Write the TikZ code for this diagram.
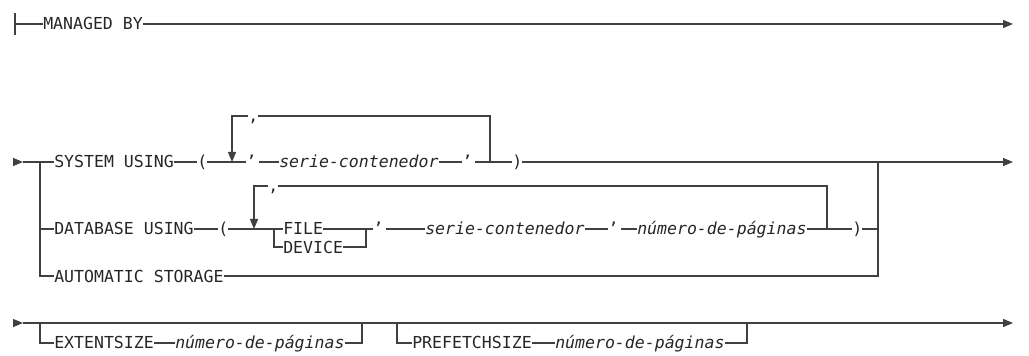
\documentclass[tikz,border=0pt]{standalone}
\usepackage{fontspec}
\setmainfont{DejaVu Sans Mono}
\usepackage{tikz}
\usetikzlibrary{arrows.meta}

\newcommand{\railsize}{\fontsize{12.4pt}{15pt}\selectfont}
\tikzset{
  rail/.style={draw=black!75, line width=0.9pt},
  tip/.style={-{Triangle[length=7.5pt,width=6pt]}},
  kw/.style={inner sep=0pt, anchor=west, text height=9pt, text depth=0pt, text=black!85, font=\railsize},
  var/.style={kw, font=\railsize\itshape},
}

\begin{document}
\begin{tikzpicture}[x=0.75pt,y=-0.75pt]
	\useasboundingbox (0,0) rectangle (1029,356);
	
	% Row 1
	\coordinate (s1) at (15,24);
	\coordinate (e1) at (1013,24);
	\node[kw] (managed) at (43,24) {MANAGED BY};
	\draw[rail] (15,13) -- (15,35);
	\draw[rail] (s1) -- (managed.west);
	\draw[rail,tip] (managed.east) -- (e1);
	
	% Row 2: SYSTEM USING
	\coordinate (s2) at (23,162);
	\coordinate (e2) at (1013,162);
	\node[kw] (sys) at (54,162) {SYSTEM USING};
	\node[kw] (lpa) at (197,162) {(};
	\node[kw] (qa) at (246,162) {’};
	\node[var] (sera) at (279,162) {serie-contenedor};
	\node[kw] (qb) at (462,162) {’};
	\node[kw] (rpa) at (512,162) {)};
	\node[kw] (ca) at (248,116) {,};
	\draw[rail,tip] (13,162) -- (s2);
	\draw[rail] (s2) -- (sys.west);
	\draw[rail] (sys.east) -- (lpa.west);
	\draw[rail] (lpa.east) -- (qa.west);
	\draw[rail] (qa.east) ++(3,0) -- (sera.west);
	\draw[rail] (sera.east) -- (qb.west);
	\draw[rail] (qb.east) ++(3,0) -- (rpa.west);
	\draw[rail,tip] (rpa.east) -- (e2);
	\draw[rail,tip] (ca.west) -| (232,162);
	\draw[rail] (ca.east) -| (490,162);
	
	% Row 3: DATABASE USING
	\node[kw] (db) at (54,229) {DATABASE USING};
	\node[kw] (lpb) at (218,229) {(};
	\node[kw] (cb) at (268,186) {,};
	\node[kw] (file) at (283,229) {FILE};
	\node[kw] (dev) at (283,247) {DEVICE};
	\node[kw] (qc) at (373,229) {’};
	\node[var] (serb) at (425,229) {serie-contenedor};
	\node[kw] (qd) at (608,229) {’};
	\node[var] (pga) at (637,229) {número-de-páginas};
	\node[kw] (rpb) at (852,229) {)};
	\draw[rail] (40,229) -- (db.west);
	\draw[rail] (db.east) -- (lpb.west);
	\draw[rail] (lpb.east) -- (file.west);
	\draw[rail] (274,229) |- (dev.west);
	\draw[rail] (file.east) -- (qc.west);
	\draw[rail] (dev.east) -| (366,229);
	\draw[rail] (qc.east) ++(3,0) -- (serb.west);
	\draw[rail] (serb.east) -- (qd.west);
	\draw[rail] (qd.east) ++(3,0) -- (pga.west);
	\draw[rail] (pga.east) -- (rpb.west);
	\draw[rail] (rpb.east) -- (878,229);
	\draw[rail,tip] (cb.west) -| (254,229);
	\draw[rail] (cb.east) -| (827,229);
	
	% Row 4: AUTOMATIC STORAGE
	\node[kw] (auto) at (54,276) {AUTOMATIC STORAGE};
	\draw[rail] (40,162) |- (auto.west);
	\draw[rail] (auto.east) -| (878,162);
	
	% Row 5: sizes
	\coordinate (s5) at (23,323);
	\coordinate (e5) at (1013,323);
	\node[kw] (ext) at (54,343) {EXTENTSIZE};
	\node[var] (pgb) at (175,343) {número-de-páginas};
	\node[kw] (pre) at (412,343) {PREFETCHSIZE};
	\node[var] (pgc) at (555,343) {número-de-páginas};
	\draw[rail,tip] (13,323) -- (s5);
	\draw[rail,tip] (s5) -- (e5);
	\draw[rail] (40,323) |- (ext.west);
	\draw[rail] (ext.east) -- (pgb.west);
	\draw[rail] (pgb.east) -| (362,323);
	\draw[rail] (397,323) |- (pre.west);
	\draw[rail] (pre.east) -- (pgc.west);
	\draw[rail] (pgc.east) -| (747,323);
\end{tikzpicture}
\end{document}
